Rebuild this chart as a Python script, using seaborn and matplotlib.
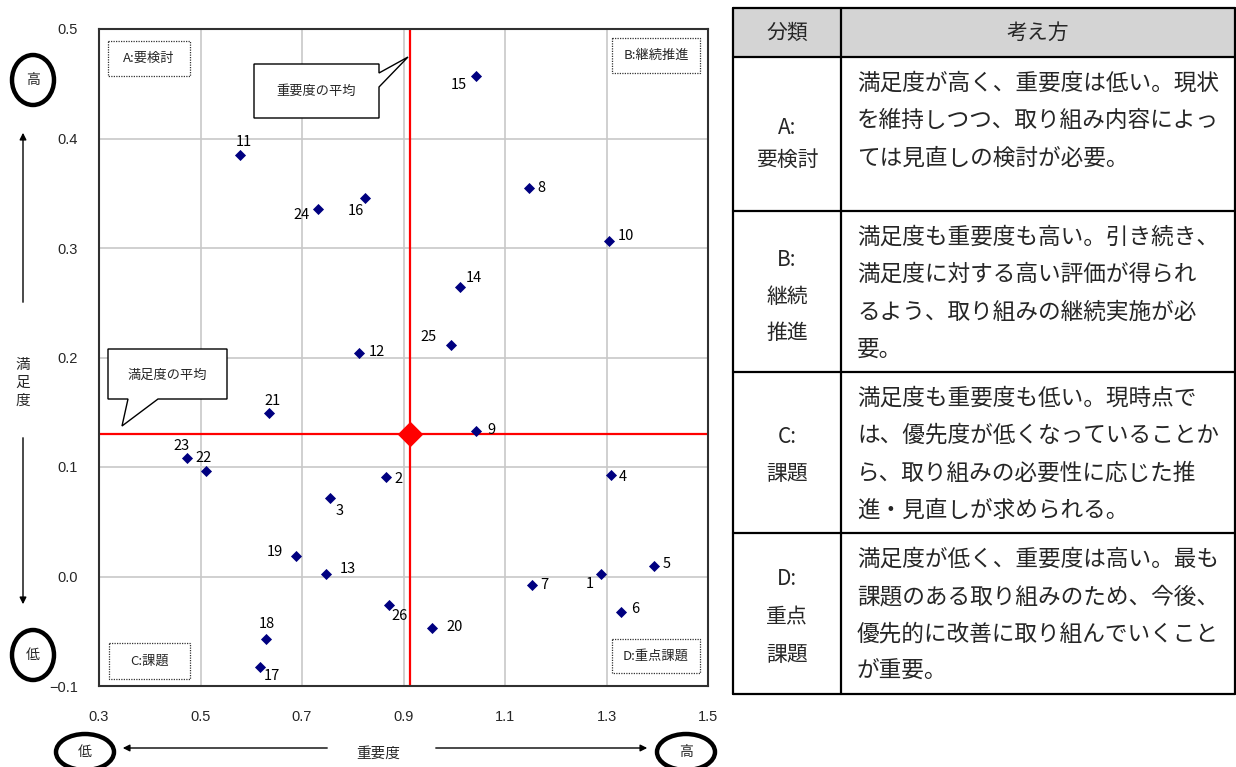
import matplotlib
matplotlib.use("Agg")
import matplotlib.pyplot as plt
import seaborn as sns
import numpy as np
import pandas as pd
from matplotlib.patches import Ellipse, Polygon, Rectangle

# --- data ---
item_no = list(range(1, 27))
importance = [1.289, 0.865, 0.755, 1.309, 1.393, 1.328, 1.154, 1.147, 1.043, 1.304,
              0.578, 0.812, 0.748, 1.011, 1.043, 0.825, 0.618, 0.629, 0.688, 0.957,
              0.635, 0.510, 0.474, 0.732, 0.993, 0.871]
satisfaction = [0.002, 0.091, 0.072, 0.093, 0.010, -0.032, -0.008, 0.355, 0.133, 0.306,
                0.385, 0.204, 0.002, 0.264, 0.457, 0.346, -0.083, -0.057, 0.019, -0.047,
                0.149, 0.096, 0.108, 0.336, 0.211, -0.026]

x_ticks = [0.3, 0.5, 0.7, 0.9, 1.1, 1.3, 1.5]
y_ticks = [-0.1, 0.0, 0.1, 0.2, 0.3, 0.4, 0.5]

quadrant_labels = ["A:要検討", "B:継続推進", "C:課題", "D:重点課題"]
table_header = ["分類", "考え方"]
table_class = [["A:", "要検討"], ["B:", "継続", "推進"], ["C:", "課題"], ["D:", "重点", "課題"]]
table_text = [
    ["満足度が高く、重要度は低い。現状", "を維持しつつ、取り組み内容によっ", "ては見直しの検討が必要。"],
    ["満足度も重要度も高い。引き続き、", "満足度に対する高い評価が得られ", "るよう、取り組みの継続実施が必", "要。"],
    ["満足度も重要度も低い。現時点で", "は、優先度が低くなっていることか", "ら、取り組みの必要性に応じた推", "進・見直しが求められる。"],
    ["満足度が低く、重要度は高い。最も", "課題のある取り組みのため、今後、", "優先的に改善に取り組んでいくこと", "が重要。"],
]

# label offsets (pixels, +dy = down)
label_offset = {1: (-11, 10), 2: (13, 2), 3: (10, 13), 4: (12, 2), 5: (13, -2),
                6: (14, -3), 7: (12, 0), 8: (13, 0), 9: (15, -1), 10: (17, -5),
                11: (4, -13), 12: (18, -1), 13: (21, -5), 14: (14, -9), 15: (-17, 9),
                16: (-10, 13), 17: (11, 9), 18: (1, -15), 19: (-21, -4), 20: (22, -1),
                21: (4, -12), 22: (-2, -13), 23: (-6, -12), 24: (-17, 6), 25: (-22, -8),
                26: (11, 11)}

sns.set_theme(style="whitegrid")
plt.rcParams['font.family'] = ['Noto Sans CJK JP', 'DejaVu Sans']

df = pd.DataFrame({"no": item_no, "重要度": importance, "満足度": satisfaction})
mean_x = np.mean(importance)
mean_y = np.mean(satisfaction)

fig = plt.figure(figsize=(12.36, 7.67), dpi=100)
fig.patch.set_facecolor("white")
ax = fig.add_axes([99 / 1236, 1 - 686 / 767, 609 / 1236, 657 / 767])

ax.axvline(mean_x, color="red", lw=1.6, zorder=2)
ax.axhline(mean_y, color="red", lw=1.6, zorder=2)
sns.scatterplot(data=df, x="重要度", y="満足度", marker="D", s=32, color="#000080",
                edgecolor="#000080", linewidth=0, ax=ax, zorder=3)
ax.scatter([mean_x], [mean_y], marker="D", s=170, color="red", linewidth=0, zorder=4)

for n, xv, yv in zip(item_no, importance, satisfaction):
    dx, dy = label_offset[n]
    ax.annotate(str(n), (xv, yv), xytext=(dx * 0.72, -dy * 0.72), textcoords="offset points",
                ha="center", va="center", fontsize=10.5, color="black", zorder=5)

ax.set_xlim(0.3, 1.5)
ax.set_ylim(-0.1, 0.5)
ax.set_xticks(x_ticks)
ax.set_yticks(y_ticks)
ax.set_xticklabels([f"{v:.1f}" for v in x_ticks], family="Liberation Sans", fontsize=10.5)
ax.set_yticklabels([f"{v:.1f}".replace("-", "\u2212") for v in y_ticks], family="Liberation Sans", fontsize=10.5)
ax.tick_params(axis="x", length=0, pad=17)
ax.tick_params(axis="y", length=0, pad=15)
ax.set_xlabel("")
ax.set_ylabel("")
ax.grid(True, color="#c8c8c8", lw=1.2)
for sp in ax.spines.values():
    sp.set_color("#303030")
    sp.set_linewidth(1.5)

# --- overlay in pixel coordinates ---
ov = fig.add_axes([0, 0, 1, 1])
ov.set_xlim(0, 1236)
ov.set_ylim(767, 0)
ov.axis("off")
ov.patch.set_alpha(0)

# quadrant boxes
quad_boxes = [(108, 41, 82, 35), (612, 38, 88, 35), (109, 643, 81, 36), (612, 639, 88, 34)]
for (bx, by, bw, bh), txt in zip(quad_boxes, quadrant_labels):
    ov.add_patch(Rectangle((bx, by), bw, bh, fill=True, facecolor="white", edgecolor="#333333",
                           lw=0.9, linestyle=(0, (1, 1)), zorder=3))
    ov.text(bx + bw / 2, by + bh / 2, txt, ha="center", va="center", fontsize=9.5, zorder=4)

# callouts
callout1 = [(254, 64), (379, 64), (379, 73), (408, 57), (379, 87), (379, 118), (254, 118)]
ov.add_patch(Polygon(callout1, closed=True, facecolor="white", edgecolor="black", lw=1, zorder=3))
ov.text(316, 91, "重要度の平均", ha="center", va="center", fontsize=9.5, zorder=4)
callout2 = [(108, 349), (227, 349), (227, 399), (158, 399), (122, 426), (128, 399), (108, 399)]
ov.add_patch(Polygon(callout2, closed=True, facecolor="white", edgecolor="black", lw=1, zorder=3))
ov.text(167, 375, "満足度の平均", ha="center", va="center", fontsize=9.5, zorder=4)

# axis decorations
for cx, cy, w, h, t in [(33, 80, 42, 50, "高"), (33, 655, 42, 50, "低"),
                        (85, 752, 58, 36, "低"), (686, 752, 58, 36, "高")]:
    ov.add_patch(Ellipse((cx, cy), w, h, fill=False, edgecolor="black", lw=3.2))
    ov.text(cx, cy, t, ha="center", va="center", fontsize=10)

arrow_kw = dict(arrowstyle="-|>", color="black", lw=1, mutation_scale=10)
ov.annotate("", xy=(23, 130), xytext=(23, 305), arrowprops=arrow_kw)
ov.annotate("", xy=(23, 607), xytext=(23, 435), arrowprops=arrow_kw)
ov.annotate("", xy=(120, 748), xytext=(330, 748), arrowprops=arrow_kw)
ov.annotate("", xy=(650, 748), xytext=(433, 748), arrowprops=arrow_kw)
ov.text(23, 383, "満\n足\n度", ha="center", va="center", fontsize=10.5, linespacing=1.35)
ov.text(378, 754, "重要度", ha="center", va="center", fontsize=10.5)

# --- explanation table ---
tx0, tx1, tcol = 733, 1235, 841
row_y = [8, 57, 211, 372, 533, 694]
ov.add_patch(Rectangle((tx0, row_y[0]), tx1 - tx0, row_y[1] - row_y[0], facecolor="#d4d4d4",
                       edgecolor="none", zorder=1))
for yv in row_y:
    ov.plot([tx0, tx1], [yv, yv], color="black", lw=1.6, zorder=2)
for xv in [tx0, tcol, tx1]:
    ov.plot([xv, xv], [row_y[0], row_y[-1]], color="black", lw=1.6, zorder=2)
ov.text((tx0 + tcol) / 2, 33, table_header[0], ha="center", va="center", fontsize=15)
ov.text((tcol + tx1) / 2, 33, table_header[1], ha="center", va="center", fontsize=15)

class_y = [[128, 160], [260, 297, 333], [437, 474], [579, 617, 655]]
for cls, ys in zip(table_class, class_y):
    for t, yv in zip(cls, ys):
        ov.text((tx0 + tcol) / 2, yv, t, ha="center", va="center", fontsize=15)

for i, lines in enumerate(table_text):
    top = row_y[i + 1]
    for j, line in enumerate(lines):
        ov.text(857, top + 26 + j * 37.5, line, ha="left", va="center", fontsize=16.3)

fig.savefig("out.png", dpi=100)
